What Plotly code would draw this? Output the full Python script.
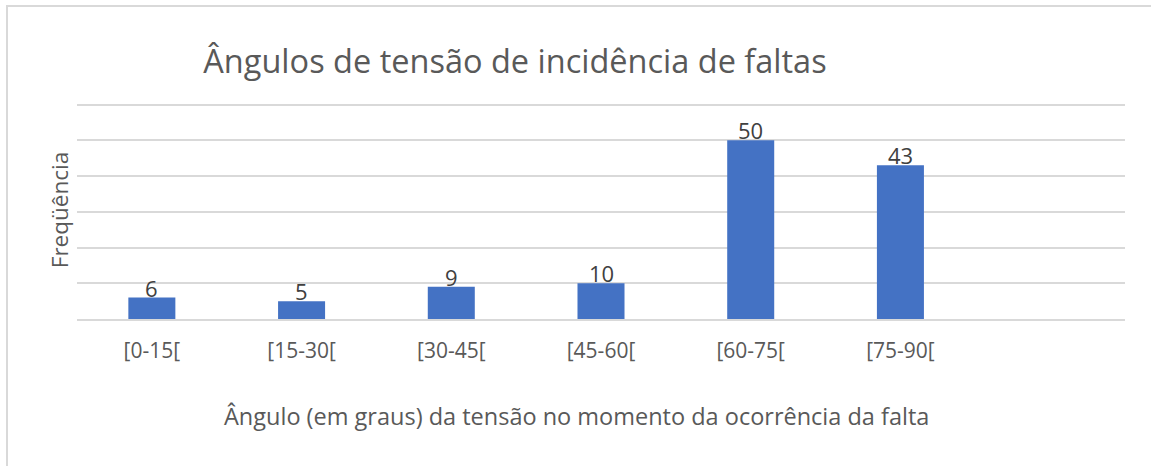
import plotly.graph_objects as go

# data
categories = ["[0-15[", "[15-30[", "[30-45[", "[45-60[", "[60-75[", "[75-90["]
frequencies = [6, 5, 9, 10, 50, 43]

title_text = "Ângulos de tensão de incidência de faltas"
x_title = "Ângulo (em graus) da tensão no momento da ocorrência da falta"
y_title = "Freqüência"

font_family = "Open Sans"
bar_color = "#4472C4"
grid_color = "#D9D9D9"
text_grey = "#595959"

W, H = 1151, 466
y_max = 61  # grid stops at 60; a bit of headroom keeps the top gridline drawn
px_per_unit = (319 - 105) / 60
left, right, bottom = 77, 26, 147
top = int(round(319 - y_max * px_per_unit))
plot_w = W - left - right
plot_h = H - top - bottom

fig = go.Figure()
fig.add_trace(go.Bar(
    x=categories, y=frequencies,
    marker=dict(color=bar_color, line=dict(width=0)),
    hoverinfo="x+y",
))

# value labels just above each bar
for cat, val in zip(categories, frequencies):
    fig.add_annotation(x=cat, y=val, text=str(val), showarrow=False,
                       yanchor="middle", yshift=10,
                       font=dict(family=font_family, size=22, color="#404040"))

# x-axis title, centred on the whole chart area like the original
fig.add_annotation(text=x_title, xref="paper", yref="paper",
                   x=(576 - left) / plot_w, y=-(416 - (H - bottom)) / plot_h,
                   xanchor="center", yanchor="middle", showarrow=False,
                   font=dict(family=font_family, size=23.5, color=text_grey))

fig.update_layout(
    width=W, height=H,
    margin=dict(l=left, r=right, t=top, b=bottom, autoexpand=False),
    paper_bgcolor="white", plot_bgcolor="white",
    font=dict(family=font_family, color=text_grey),
    showlegend=False, bargap=0.686,
    title=dict(text=title_text, x=515 / W, xanchor="center",
               y=1 - 62 / H, yanchor="middle",
               font=dict(family=font_family, size=32.5, color=text_grey)),
)

fig.update_xaxes(
    range=[-0.5, 6.5], showgrid=False, zeroline=False, automargin=False,
    showline=True, linecolor=grid_color, linewidth=2,
    ticks="", ticklabelstandoff=12,
    tickfont=dict(family=font_family, size=21, color=text_grey),
)
fig.update_yaxes(
    range=[0, y_max], tick0=0, dtick=10, showticklabels=False, ticks="",
    automargin=False,
    showgrid=True, gridcolor=grid_color, gridwidth=2, zeroline=False,
    title=dict(text=y_title, standoff=1,
               font=dict(family=font_family, size=22.5, color=text_grey)),
)

# chart-area border (only its top and left edges fall inside the picture)
fig.add_shape(type="rect", xref="paper", yref="paper",
              x0=(7 - left) / plot_w, x1=(W + 20 - left) / plot_w,
              y0=-(bottom + 20) / plot_h, y1=(plot_h + top - 6) / plot_h,
              line=dict(color=grid_color, width=2), layer="below")

fig.write_html("out.html", config={"displayModeBar": False},
               post_script="document.body.style.margin = '0';")
